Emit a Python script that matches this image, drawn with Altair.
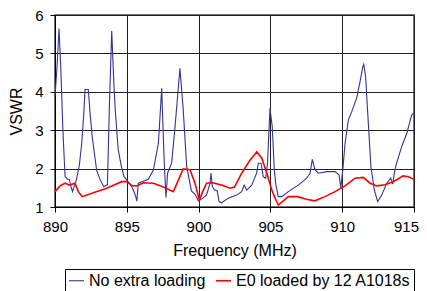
import altair as alt
import pandas as pd

series_names = ["No extra loading", "E0 loaded by 12 A1018s"]
x_ticks = [890, 895, 900, 905, 910, 915]
y_ticks = [1, 2, 3, 4, 5, 6]

blue_freq = [890.0, 890.15, 890.28, 890.4, 890.55, 890.7, 890.85, 891.0, 891.1, 891.22,
             891.35, 891.5, 891.7, 891.86, 892.0, 892.09, 892.32, 892.45, 892.6, 892.9,
             893.15, 893.4, 893.65, 893.8, 893.95, 894.1, 894.2, 894.4, 894.6, 894.8,
             895.0, 895.35, 895.6, 895.7, 895.8, 896.05, 896.5, 896.85, 897.2, 897.43,
             897.6, 897.73, 897.84, 898.12, 898.36, 898.7, 898.93, 899.17, 899.5, 899.75,
             899.98, 900.3, 900.55, 900.8, 900.86, 900.96, 901.1, 901.3, 901.42, 901.6,
             902.07, 902.65, 903.0, 903.18, 903.35, 903.7, 904.04, 904.16, 904.35, 904.5,
             904.67, 904.8, 904.97, 905.13, 905.27, 905.37, 905.55, 905.8, 906.25, 906.94,
             907.53, 907.76, 907.92, 908.1, 908.34, 908.92, 909.5, 909.78, 909.9, 910.04,
             910.2, 910.43, 910.67, 911.0, 911.24, 911.43, 911.5, 911.63, 911.77, 912.0,
             912.24, 912.47, 912.75, 913.1, 913.38, 913.52, 913.63, 913.75, 914.14, 914.5,
             914.84, 915.0]
blue_vswr = [3.87, 4.7, 5.65, 4.65, 3.0, 1.8, 1.73, 1.72, 1.55, 1.40,
             1.55, 1.72, 2.1, 2.66, 3.4, 4.06, 4.06, 3.4, 2.8, 1.96,
             1.7, 1.53, 1.58, 3.8, 5.58, 4.2, 3.5, 2.5, 2.1, 1.8,
             1.70, 1.53, 1.3, 1.15, 1.62, 1.66, 1.72, 1.96, 2.66, 4.09,
             2.22, 1.25, 1.88, 2.14, 3.09, 4.61, 3.53, 2.05, 1.42, 1.33,
             1.16, 1.23, 1.31, 1.62, 1.88, 1.53, 1.45, 1.42, 1.14, 1.11,
             1.23, 1.31, 1.40, 1.57, 1.44, 1.57, 1.88, 2.14, 2.14, 1.79,
             1.75, 2.14, 3.57, 3.09, 1.97, 1.60, 1.27, 1.27, 1.40, 1.57,
             1.75, 1.88, 2.24, 1.97, 1.88, 1.92, 1.92, 1.84, 1.5, 1.96,
             2.66, 3.27, 3.49, 3.83, 4.26, 4.65, 4.72, 4.40, 3.49, 2.05,
             1.44, 1.14, 1.31, 1.62, 1.75, 1.60, 1.88, 2.09, 2.57, 2.92,
             3.40, 3.45]

red_freq = [890.0, 890.35, 890.7, 891.0, 891.39, 891.62, 891.9, 892.67, 893.6, 894.64,
            895.0, 895.34, 895.7, 896.15, 896.85, 897.54, 898.24, 898.59, 898.93, 899.4,
            899.75, 900.05, 900.33, 900.55, 901.0, 901.6, 902.19, 902.5, 903.0, 903.58,
            904.05, 904.4, 904.75, 905.1, 905.3, 905.55, 905.9, 906.25, 906.9, 907.5,
            908.1, 908.8, 909.5, 910.2, 910.9, 911.47, 911.94, 912.4, 912.98, 913.56,
            914.25, 914.6, 915.0]
red_vswr = [1.40, 1.55, 1.62, 1.57, 1.62, 1.40, 1.27, 1.37, 1.49, 1.66,
            1.66, 1.56, 1.55, 1.63, 1.62, 1.52, 1.40, 1.70, 1.99, 1.97,
            1.62, 1.18, 1.44, 1.62, 1.63, 1.57, 1.49, 1.52, 1.88, 2.22,
            2.44, 2.27, 1.88, 1.44, 1.25, 1.05, 1.16, 1.27, 1.27, 1.20,
            1.16, 1.27, 1.40, 1.55, 1.75, 1.77, 1.62, 1.55, 1.58, 1.66,
            1.81, 1.79, 1.72]

rows = []
for i, (f, v) in enumerate(zip(blue_freq, blue_vswr)):
    rows.append({"freq": f, "vswr": v, "series": series_names[0], "idx": i})
for i, (f, v) in enumerate(zip(red_freq, red_vswr)):
    rows.append({"freq": f, "vswr": v, "series": series_names[1], "idx": i})
df = pd.DataFrame(rows)

FONT = "Liberation Sans"

chart = alt.Chart(df).mark_line().encode(
    x=alt.X("freq:Q",
            scale=alt.Scale(domain=[890, 915], nice=False, zero=False),
            axis=alt.Axis(values=x_ticks, title="Frequency (MHz)", format="d",
                          labelFontSize=15, titleFontSize=16, labelPadding=7,
                          titlePadding=8, tickSize=5, labelFlush=False,
                          labelOverlap=False, labelBound=False,
                          labelOffset={"expr": "datum.value == 915 ? -8 : 0"})),
    y=alt.Y("vswr:Q",
            scale=alt.Scale(domain=[1, 6], nice=False, zero=False),
            axis=alt.Axis(values=y_ticks, title="VSWR", format="d",
                          labelFontSize=15, titleFontSize=16, labelPadding=7,
                          titlePadding=10, tickSize=5, labelFlush=False,
                          labelOverlap=False, labelBound=False)),
    color=alt.Color("series:N",
                    scale=alt.Scale(domain=series_names, range=["#333399", "#FF0000"]),
                    legend=alt.Legend(title=None, orient="none", legendX=10, legendY=254,
                                      direction="horizontal", strokeColor="#000",
                                      padding=3, symbolType="stroke", symbolSize=225,
                                      symbolStrokeWidth=1.5, labelFontSize=16,
                                      labelFont=FONT, columnPadding=6, labelOffset=4,
                                      labelLimit=300)),
    strokeWidth=alt.StrokeWidth("series:N",
                                scale=alt.Scale(domain=series_names, range=[1.1, 1.6]),
                                legend=None),
    order="idx:Q",
).properties(
    width=359, height=192,
    padding={"left": 47, "top": 7, "right": 5, "bottom": 84},
    autosize=alt.AutoSizeParams(type="none"),
).configure_axis(
    labelFont=FONT, titleFont=FONT, titleFontWeight="normal",
    labelColor="#000", titleColor="#000",
    gridColor="#222", gridWidth=1, gridOpacity=1,
    domainColor="#000", tickColor="#000",
).configure_view(
    stroke="#444", strokeWidth=1.5,
)

chart.save("out.html", embed_options={"renderer": "svg", "actions": False})
